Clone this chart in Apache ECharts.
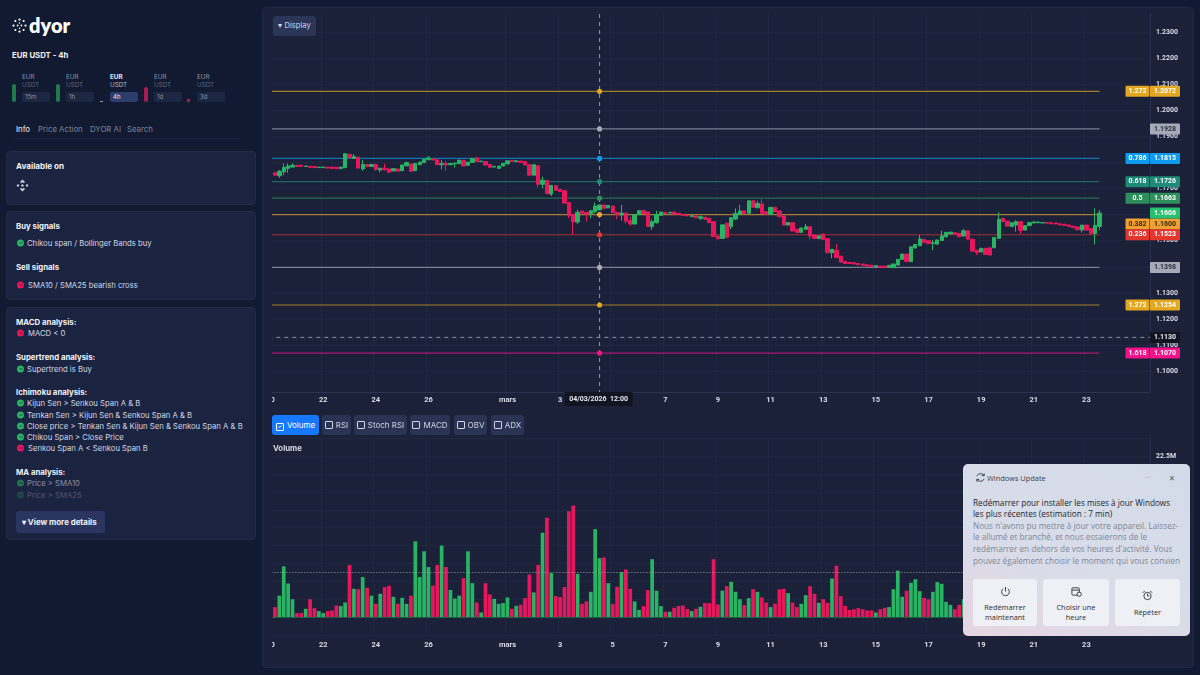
<!DOCTYPE html>
<html>
<head>
<meta charset="utf-8">
<title>EUR USDT - 4h</title>
<script src="https://cdn.jsdelivr.net/npm/echarts@6/dist/echarts.min.js"></script>
<style>
  html, body { margin: 0; padding: 0; width: 1200px; height: 675px; overflow: hidden; background: #111a30; font-family: Inter, "Noto Sans", sans-serif; color: #e6e9f2; }
  .abs { position: absolute; }
  .t { position: absolute; transform: translateY(-50%); white-space: nowrap; font-size: 7.7px; color: #d5dae6; }
  .b { font-weight: 700; color: #f1f3f8; font-size: 7.8px; }
  .card { position: absolute; left: 6px; width: 250px; background: #1a2340; border: 1px solid #222c4a; border-radius: 4px; box-sizing: border-box; }
  .dot { position: absolute; width: 7px; height: 7px; border-radius: 50%; transform: translateY(-50%); }
  .dot::after { content: ''; position: absolute; left: 1.5px; top: 3px; width: 4px; height: 1px; background: rgba(10,20,30,.45); }
  .g { background: #28b463; } .r { background: #e8175d; }
  .chip { position: absolute; top: 92px; height: 10px; width: 28px; background: #1c2743; border-radius: 2px; font-size: 6px; line-height: 10px; padding-left: 3px; box-sizing: border-box; color: #8d96ad; }
  #panel { position: absolute; left: 262px; top: 7px; width: 932px; height: 661px; background: #1a2139; border: 1px solid #212a45; border-radius: 4px; box-sizing: border-box; }
  #main { position: absolute; left: 0; top: 0; width: 1200px; height: 675px; clip-path: inset(0 0 0 272.7px); }
  .btn { position: absolute; top: 415px; height: 20px; background: #2a3353; border-radius: 3px; font-size: 8px; line-height: 20px; color: #cfd5e3; text-align: center; z-index: 5; }
  .btn i { display: inline-block; width: 6px; height: 6px; border: 1px solid #cfd5e3; border-radius: 1px; margin-right: 3px; vertical-align: -1px; font-style: normal; font-size: 6px; line-height: 6px; }
  #toast { position: absolute; left: 963px; top: 464px; width: 227px; height: 172px; border-radius: 5px; z-index: 9; background: linear-gradient(20deg, #e6d5e2 0%, #d8dde9 45%, #d3dbe8 100%); font-family: "Open Sans", "Noto Sans", sans-serif; color: #23262e; overflow: hidden; }
  #toast .t { color: #23262e; font-size: 8.2px; }
  #toast .m { color: #7f8798; }
  #toast .k { position: absolute; top: 115px; height: 47px; background: #eef0f5; border-radius: 3px; font-size: 7.4px; line-height: 10px; text-align: center; color: #2b2e36; }
  #toast .k svg { display: block; margin: 0 auto; }
</style>
</head>
<body>
<!-- sidebar -->
<svg class="abs" style="left:12px;top:18px" width="15" height="15" viewBox="0 0 20 20" fill="#fff">
  <circle cx="10" cy="2" r="1.5"/><circle cx="4.5" cy="4" r="1.4"/><circle cx="15.500" cy="4" r="1.4"/><circle cx="2" cy="10" r="1.5"/><circle cx="18" cy="10" r="1.5"/><circle cx="4.500" cy="16" r="1.4"/><circle cx="15.500" cy="16" r="1.4"/><circle cx="10" cy="18" r="1.5"/><circle cx="7.500" cy="10" r="1.2"/><circle cx="12.500" cy="10" r="1.2"/><circle cx="10" cy="6.500" r="1"/><circle cx="10" cy="13.500" r="1"/>
</svg>
<div class="t" style="left:29px;top:25px;font-size:20px;font-weight:800;color:#fff;font-family:Lato,Inter,sans-serif">dyor</div>
<div class="t b" style="left:12px;top:55px;font-size:7.8px">EUR USDT - 4h</div>

<div class="abs" style="left:12px;top:84px;width:4px;height:18px;background:#1f7a4c;border-radius:2px"></div>
<div class="abs" style="left:56px;top:84px;width:4px;height:18px;background:#1f7a4c;border-radius:2px"></div>
<div class="abs" style="left:100px;top:101px;width:3px;height:1px;background:#8d96ad"></div>
<div class="abs" style="left:144px;top:87px;width:4px;height:15px;background:#a81c55;border-radius:2px"></div>
<div class="abs" style="left:187px;top:99px;width:3px;height:3px;background:#a81c55"></div>
<div class="t" style="left:22px;top:77px;font-size:6.3px;color:#8d96ad">EUR</div><div class="t" style="left:22px;top:85px;font-size:6.3px;color:#5d6680">USDT</div><div class="chip" style="left:22px">15m</div>
<div class="t" style="left:66px;top:77px;font-size:6.3px;color:#8d96ad">EUR</div><div class="t" style="left:66px;top:85px;font-size:6.3px;color:#5d6680">USDT</div><div class="chip" style="left:66px">1h</div>
<div class="t" style="left:110px;top:77px;font-size:6.3px;font-weight:700;color:#e6e9f2">EUR</div><div class="t" style="left:110px;top:85px;font-size:6.3px;color:#b5bccc">USDT</div><div class="chip" style="left:110px;background:#2d3d6b;color:#e6e9f2">4h</div>
<div class="t" style="left:154px;top:77px;font-size:6.3px;color:#8d96ad">EUR</div><div class="t" style="left:154px;top:85px;font-size:6.3px;color:#5d6680">USDT</div><div class="chip" style="left:154px">1d</div>
<div class="t" style="left:197px;top:77px;font-size:6.3px;color:#8d96ad">EUR</div><div class="t" style="left:197px;top:85px;font-size:6.3px;color:#5d6680">USDT</div><div class="chip" style="left:197px">3d</div>

<div class="t" style="left:16px;top:129px;font-size:7.8px;color:#f1f3f8">Info</div>
<div class="t" style="left:38px;top:129px;font-size:7.8px;color:#7b849c">Price Action</div>
<div class="t" style="left:90px;top:129px;font-size:7.8px;color:#7b849c">DYOR AI</div>
<div class="t" style="left:127px;top:129px;font-size:7.8px;color:#7b849c">Search</div>
<div class="abs" style="left:14px;top:138px;width:226px;height:1px;background:#18213a"></div>

<div class="card" style="top:151px;height:54px"></div>
<div class="t b" style="left:16px;top:166px;font-size:8.1px">Available on</div>
<svg class="abs" style="left:16px;top:179px" width="13" height="13" viewBox="0 0 13 13" fill="#c9cfdc">
  <path d="M6.500 0.500 L9 3 L7.800 4.200 L6.500 2.900 L5.200 4.200 L4 3 Z M6.500 12.500 L4 10 L5.200 8.800 L6.500 10.100 L7.800 8.800 L9 10 Z M0.500 6.500 L2 5 L3.500 6.500 L2 8 Z M9.500 6.500 L11 5 L12.500 6.500 L11 8 Z M6.500 5 L8 6.500 L6.500 8 L5 6.500 Z"/>
</svg>

<div class="card" style="top:211px;height:89px"></div>
<div class="t b" style="left:16px;top:226px">Buy signals</div>
<div class="dot g" style="left:17px;top:243px"></div><div class="t" style="left:27px;top:243px">Chikou span / Bollinger Bands buy</div>
<div class="t b" style="left:16px;top:267px">Sell signals</div>
<div class="dot r" style="left:17px;top:285px"></div><div class="t" style="left:28px;top:285px">SMA10 / SMA25 bearish cross</div>

<div class="card" style="top:307px;height:233px"></div>
<div class="t b" style="left:16px;top:322px">MACD analysis:</div>
<div class="dot r" style="left:17px;top:333px"></div><div class="t" style="left:28px;top:333px">MACD &lt; 0</div>
<div class="t b" style="left:16px;top:357px">Supertrend analysis:</div>
<div class="dot g" style="left:17px;top:369px"></div><div class="t" style="left:27px;top:369px">Supertrend is Buy</div>
<div class="t b" style="left:16px;top:392px">Ichimoku analysis:</div>
<div class="dot g" style="left:17px;top:403px"></div><div class="t" style="left:27px;top:403px">Kijun Sen &gt; Senkou Span A &amp; B</div>
<div class="dot g" style="left:17px;top:415px"></div><div class="t" style="left:27px;top:415px">Tenkan Sen &gt; Kijun Sen &amp; Senkou Span A &amp; B</div>
<div class="dot g" style="left:17px;top:426px"></div><div class="t" style="left:27px;top:426px">Close price &gt; Tenkan Sen &amp; Kijun Sen &amp; Senkou Span A &amp; B</div>
<div class="dot g" style="left:17px;top:437px"></div><div class="t" style="left:27px;top:437px">Chikou Span &gt; Close Price</div>
<div class="dot r" style="left:17px;top:448px"></div><div class="t" style="left:28px;top:448px">Senkou Span A &lt; Senkou Span B</div>
<div class="t b" style="left:16px;top:472px">MA analysis:</div>
<div class="dot g" style="left:17px;top:483px;opacity:.55"></div><div class="t" style="left:27px;top:483px;opacity:.6">Price &gt; SMA10</div>
<div class="dot g" style="left:17px;top:495px;opacity:.25"></div><div class="t" style="left:27px;top:495px;opacity:.28">Price &gt; SMA25</div>
<div class="abs" style="left:16px;top:511px;width:89px;height:22px;background:#2a3560;border-radius:3px"></div>
<div class="t b" style="left:22px;top:522px;font-size:7.9px">&#9662; View more details</div>

<!-- chart -->
<div id="panel"></div>
<div id="main"></div>

<div class="abs" style="left:273px;top:16px;width:43px;height:20px;background:#2a3558;border-radius:3px;font-size:7.6px;line-height:20px;text-align:center;color:#cfd5e3;z-index:5">&#9662; Display</div>
<div class="btn" style="left:272px;width:47px;background:#1677ff;color:#fff"><i style="border-color:#fff">&#10003;</i>Volume</div>
<div class="btn" style="left:322px;width:29px"><i></i>RSI</div>
<div class="btn" style="left:354px;width:53px"><i></i>Stoch RSI</div>
<div class="btn" style="left:410px;width:40px"><i></i>MACD</div>
<div class="btn" style="left:454px;width:33px"><i></i>OBV</div>
<div class="btn" style="left:491px;width:33px"><i></i>ADX</div>
<div class="t b" style="left:273px;top:448px;font-size:7.8px;z-index:5;color:#d5dae6">Volume</div>

<!-- windows toast -->
<div id="toast">
  <svg class="abs" style="left:12px;top:8px" width="11" height="11" viewBox="0 0 12 12" fill="none" stroke="#33363e" stroke-width="1"><path d="M2 4.500 A4.500 4.500 0 0 1 10 4 M10 7.500 A4.500 4.500 0 0 1 2 8"/><path d="M10 1.500 V4 H7.500 M2 10.500 V8 H4.500"/></svg>
  <div class="t" style="left:24px;top:14px;font-size:7.4px;color:#3c404a">Windows Update</div>
  <div class="t" style="left:181px;top:12px;font-size:8px;color:#8b90a0">&middot;&middot;&middot;</div>
  <div class="t" style="left:206px;top:14px;font-size:10px;color:#555a66">&times;</div>
  <div class="t" style="left:10px;top:38px">Redémarrer pour installer les mises à jour Windows</div>
  <div class="t" style="left:10px;top:49px">les plus récentes (estimation : 7 min)</div>
  <div class="t m" style="left:10px;top:61px">Nous n'avons pu mettre à jour votre appareil. Laissez-</div>
  <div class="t m" style="left:10px;top:72px">le allumé et branché, et nous essaierons de le</div>
  <div class="t m" style="left:10px;top:84px">redémarrer en dehors de vos heures d'activité. Vous</div>
  <div class="abs" style="left:10px;top:90px;width:207px;height:12px;overflow:hidden"><div class="t m" style="left:0;top:6px">pouvez également choisir le moment qui vous convient</div></div>
  <div class="k" style="left:10px;width:64px"><svg style="margin-top:7px;margin-bottom:5px" width="11" height="11" viewBox="0 0 12 12" fill="none" stroke="#33363e"><path d="M3.500 3 A4.200 4.200 0 1 0 8.500 3 M6 1 V6"/></svg>Redémarrer<br>maintenant</div>
  <div class="k" style="left:80px;width:66px"><svg style="margin-top:7px;margin-bottom:5px" width="11" height="11" viewBox="0 0 12 12" fill="none" stroke="#33363e"><rect x="1" y="2" width="8" height="8" rx="1"/><path d="M1 4.500 H9"/><circle cx="9" cy="9" r="2.300" fill="#eef0f5"/></svg>Choisir une<br>heure</div>
  <div class="k" style="left:152px;width:65px"><svg style="margin-top:11px;margin-bottom:6px" width="11" height="11" viewBox="0 0 12 12" fill="none" stroke="#33363e"><circle cx="6" cy="6.500" r="4"/><path d="M6 4 V6.500 H8 M1 3 L3 1 M11 3 L9 1"/></svg>Répéter</div>
</div>

<script>
  // 4h bars, first slot is 20 Feb 00:00 (no candle, the first candle is 04:00)
  var barCount = 201;
  var firstBarTime = Date.UTC(2026, 1, 20, 0, 0);

  var opens = [
    1.1760,1.1749,1.1764,1.1777,1.1782,1.1789,1.1789,1.1784,1.1785,1.1784,
    1.1780,1.1780,1.1782,1.1782,1.1781,1.1776,1.1780,1.1831,1.1815,1.1820,
    1.1775,1.1792,1.1784,1.1792,1.1771,1.1778,1.1775,1.1767,1.1775,1.1768,
    1.1787,1.1794,1.1768,1.1791,1.1799,1.1810,1.1814,1.1810,1.1791,1.1796,
    1.1791,1.1794,1.1795,1.1808,1.1789,1.1800,1.1817,1.1803,1.1803,1.1792,
    1.1782,1.1777,1.1786,1.1794,1.1808,1.1803,1.1805,1.1803,1.1791,1.1751,
    1.1787,1.1716,1.1731,1.1679,1.1711,1.1697,1.1692,1.1646,1.1601,1.1572,
    1.1614,1.1609,1.1604,1.1611,1.1618,1.1637,1.1626,1.1633,1.1609,1.1599,
    1.1606,1.1577,1.1564,1.1600,1.1616,1.1610,1.1554,1.1569,1.1597,1.1609,
    1.1606,1.1610,1.1605,1.1601,1.1598,1.1592,1.1595,1.1586,1.1590,1.1586,
    1.1573,1.1518,1.1509,1.1567,1.1554,1.1583,1.1600,1.1614,1.1605,1.1653,
    1.1626,1.1641,1.1611,1.1601,1.1628,1.1614,1.1595,1.1560,1.1569,1.1544,
    1.1532,1.1544,1.1554,1.1522,1.1508,1.1526,1.1508,1.1454,1.1464,1.1441,
    1.1421,1.1417,1.1416,1.1413,1.1411,1.1408,1.1406,1.1401,1.1403,1.1403,
    1.1398,1.1397,1.1407,1.1429,1.1449,1.1420,1.1472,1.1481,1.1505,1.1500,
    1.1490,1.1487,1.1501,1.1515,1.1526,1.1531,1.1528,1.1518,1.1538,1.1506,
    1.1464,1.1457,1.1471,1.1473,1.1473,1.1509,1.1586,1.1575,1.1554,1.1560,
    1.1573,1.1541,1.1558,1.1568,1.1569,1.1568,1.1570,1.1569,1.1568,1.1565,
    1.1563,1.1560,1.1556,1.1553,1.1541,1.1560,1.1547,1.1528,1.1555
  ];
  var closes = [
    1.1751,1.1766,1.1780,1.1786,1.1789,1.1784,1.1784,1.1786,1.1781,1.1780,
    1.1782,1.1782,1.1778,1.1777,1.1776,1.1782,1.1833,1.1818,1.1822,1.1778,
    1.1792,1.1784,1.1792,1.1773,1.1777,1.1772,1.1762,1.1776,1.1766,1.1790,
    1.1799,1.1766,1.1796,1.1801,1.1812,1.1817,1.1809,1.1791,1.1796,1.1790,
    1.1796,1.1797,1.1809,1.1786,1.1801,1.1815,1.1803,1.1805,1.1790,1.1781,
    1.1785,1.1786,1.1796,1.1806,1.1803,1.1806,1.1800,1.1790,1.1751,1.1791,
    1.1716,1.1732,1.1680,1.1712,1.1693,1.1689,1.1644,1.1596,1.1572,1.1609,
    1.1606,1.1602,1.1615,1.1633,1.1637,1.1624,1.1635,1.1607,1.1600,1.1606,
    1.1575,1.1564,1.1600,1.1615,1.1604,1.1554,1.1573,1.1600,1.1610,1.1604,
    1.1609,1.1602,1.1601,1.1597,1.1595,1.1596,1.1588,1.1592,1.1582,1.1569,
    1.1516,1.1507,1.1561,1.1513,1.1588,1.1605,1.1614,1.1604,1.1653,1.1628,
    1.1643,1.1605,1.1601,1.1628,1.1610,1.1592,1.1560,1.1570,1.1537,1.1531,
    1.1549,1.1554,1.1518,1.1509,1.1519,1.1505,1.1454,1.1467,1.1435,1.1418,
    1.1413,1.1413,1.1411,1.1408,1.1406,1.1403,1.1402,1.1405,1.1399,1.1398,
    1.1406,1.1411,1.1429,1.1449,1.1420,1.1477,1.1486,1.1507,1.1494,1.1489,
    1.1493,1.1503,1.1519,1.1532,1.1533,1.1525,1.1515,1.1538,1.1506,1.1460,
    1.1454,1.1471,1.1447,1.1445,1.1513,1.1582,1.1573,1.1556,1.1569,1.1573,
    1.1539,1.1558,1.1570,1.1572,1.1572,1.1570,1.1567,1.1565,1.1564,1.1561,
    1.1559,1.1554,1.1550,1.1542,1.1560,1.1541,1.1528,1.1559,1.1606
  ];
  // only the candles with a visible wick
  var wickIndex = [1,2,3,4,16,18,20,23,24,25,30,35,38,39,41,46,55,60,61,63,67,68,69,71,72,73,78,79,80,81,86,87,97,103,104,105,106,110,111,121,122,127,128,147,150,152,157,160,165,169,170,184,186,187,188];
  var wickLows = [1.1741,1.1751,1.1760,1.1780,1.1778,1.1814,1.1768,1.1768,1.1762,1.1768,1.1785,1.1809,1.1773,1.1768,1.1780,1.1801,1.1800,1.1704,1.1700,1.1671,1.1586,1.1522,1.1564,1.1573,1.1586,1.1605,1.1582,1.1577,1.1566,1.1556,1.1541,1.1566,1.1579,1.1509,1.1544,1.1579,1.1600,1.1626,1.1605,1.1544,1.1505,1.1433,1.1435,1.1481,1.1464,1.1501,1.1518,1.1445,1.1509,1.1535,1.1526,1.1531,1.1525,1.1486,1.1541];
  var wickHighs = [1.1771,1.1796,1.1796,1.1796,1.1834,1.1832,1.1809,1.1796,1.1781,1.1796,1.1803,1.1824,1.1809,1.1806,1.1799,1.1822,1.1809,1.1787,1.1745,1.1712,1.1646,1.1601,1.1620,1.1609,1.1615,1.1646,1.1609,1.1637,1.1606,1.1592,1.1582,1.1615,1.1596,1.1569,1.1588,1.1624,1.1637,1.1653,1.1659,1.1564,1.1554,1.1467,1.1487,1.1522,1.1503,1.1539,1.1546,1.1464,1.1609,1.1579,1.1573,1.1560,1.1547,1.1624,1.1618];

  // volume in millions; from index 157 on the bars sit behind the toast
  var volumes = [
    1.4,3.0,7.1,4.7,2.5,0.56,0.56,1.16,2.5,1.26,
    0.84,0.56,0.84,0.93,1.63,1.54,2.05,7.3,3.96,3.9,
    5.6,4.1,3.0,1.86,3.26,4.2,4.4,2.84,1.86,2.7,
    1.86,3.0,10.6,5.6,9.2,7.0,4.4,7.3,10.0,7.0,
    3.8,2.6,3.0,5.45,9.2,4.75,2.05,0.65,4.75,3.17,
    2.56,1.86,1.96,2.75,1.16,1.58,1.72,2.65,5.96,3.45,
    7.3,11.8,13.9,6.15,2.93,2.8,4.2,14.8,15.6,6.05,
    1.86,2.2,3.54,12.3,8.24,8.34,4.75,1.86,4.24,6.3,
    6.66,3.96,2.2,1.0,1.54,3.77,8.1,3.7,1.54,0.75,
    0.75,1.3,1.54,1.63,1.12,0.84,1.16,1.44,1.96,1.96,
    8.1,1.77,3.7,4.33,4.94,3.54,2.5,1.68,2.65,3.9,
    3.54,2.75,2.05,1.4,1.86,3.9,3.96,3.35,2.05,1.4,
    1.86,3.07,4.33,3.26,2.0,2.5,2.0,5.4,7.2,2.93,
    1.58,1.0,1.1,1.26,1.1,0.93,0.93,0.65,1.1,1.3,
    1.4,3.9,6.5,2.84,3.7,4.8,5.3,3.63,2.7,2.5,
    3.54,4.9,4.66,2.14,1.72,1.1,1.72,2.5,3.6,5.0,
    2.2,2.0,1.8,2.6,4.4,6.5,3.0,2.6,2.0,2.2,
    2.8,1.8,1.5,0.9,0.7,0.7,0.7,0.7,0.8,0.8,
    0.9,1.0,1.2,1.6,2.2,2.4,3.0,7.0,5.0
  ];
  var volumeAverage = 6.33;

  var tickDays = ['02-20','02-22','02-24','02-26','03-01','03-03','03-05','03-07','03-09','03-11','03-13','03-15','03-17','03-19','03-21','03-23'];
  var tickLabels = ['20','22','24','26','mars','3','5','7','9','11','13','15','17','19','21','23'];
  var priceTicks = [1.10,1.11,1.12,1.13,1.14,1.15,1.16,1.17,1.18,1.19,1.20,1.21,1.22,1.23];

  // fibonacci levels, top to bottom
  var levelPrices = [1.2072,1.1928,1.1815,1.1726,1.1663,1.1600,1.1523,1.1398,1.1254,1.1070];
  var levelRatios = ['1.272','','0.786','0.618','0.5','0.382','0.236','','1.272','1.618'];
  var lastPrice = 1.1606;
  var crossPrice = 1.1130;
  var crossBar = 75;            // slot of 04/03/2026 12:00
  var crossLabel = '04/03/2026  12:00';

  // styles
  var levelColors = ['#e3a81f','#a4aab8','#0d9bef','#1f8a77','#2e8f5c','#f0a030','#e5352f','#a4aab8','#e3a81f','#f0138a'];
  var levelTextColors = ['#fff','#2b3040','#fff','#fff','#fff','#3a2a08','#fff','#2b3040','#fff','#fff'];
  var levelTagNudge = [0,0,0,0,0,9.5,0,0,0,0];
  var upColor = '#28b463';
  var downColor = '#e8175d';
  var gridColor = '#1f2842';
  var labelFont = 'Roboto, sans-serif';
  var tagFont = 'bold 7px Roboto, sans-serif';

  function pad(n) { return (n < 10 ? '0' : '') + n; }

  var categories = [];
  for (var s = 0; s < barCount; s++) {
    var d = new Date(firstBarTime + s * 4 * 3600 * 1000);
    categories.push(pad(d.getUTCMonth() + 1) + '-' + pad(d.getUTCDate()) + ' ' + pad(d.getUTCHours()) + ':00');
  }

  var candleData = [];
  var volumeData = [];
  for (var c = 0; c < barCount; c++) {
    var i = c - 1;
    if (i < 0 || i >= opens.length) {
      candleData.push('-');
      volumeData.push('-');
      continue;
    }
    var w = wickIndex.indexOf(i);
    var low = w >= 0 ? wickLows[w] : Math.min(opens[i], closes[i]);
    var high = w >= 0 ? wickHighs[w] : Math.max(opens[i], closes[i]);
    candleData.push([opens[i], closes[i], low, high]);
    volumeData.push({ value: volumes[i], itemStyle: { color: closes[i] >= opens[i] ? upColor : downColor } });
  }

  function isDayTick(index, value) {
    return value.slice(6) === '00:00' && tickDays.indexOf(value.slice(0, 5)) >= 0;
  }
  function dayLabel(value) {
    return tickLabels[tickDays.indexOf(value.slice(0, 5))];
  }

  function xAxisFor(gridIndex, margin) {
    return {
      type: 'category',
      gridIndex: gridIndex,
      data: categories,
      axisLine: { lineStyle: { color: '#2a3350' } },
      axisTick: { show: false },
      axisLabel: {
        interval: isDayTick, formatter: dayLabel, margin: margin,
        color: '#d8dde8', fontSize: 7.5, fontWeight: 'bold', fontFamily: labelFont
      },
      splitLine: { show: true, interval: isDayTick, lineStyle: { color: gridColor } }
    };
  }

  // level lines, under the candles
  function renderLevelLine(params, api) {
    var y = api.coord([0, api.value(1)])[1];
    var x0 = api.coord([0, api.value(1)])[0];
    var x1 = api.coord([opens.length, api.value(1)])[0];
    return {
      type: 'line',
      shape: { x1: x0, y1: y, x2: x1, y2: y },
      style: { stroke: levelColors[params.dataIndex], lineWidth: 1.2, opacity: 0.68 }
    };
  }

  function tagRect(x, y, w, h, fill, text, textFill) {
    return [
      { type: 'rect', shape: { x: x, y: y - h / 2, width: w, height: h, r: 1 }, style: { fill: fill } },
      { type: 'text', style: { x: x + w / 2, y: y, text: text, fill: textFill, font: tagFont, align: 'center', verticalAlign: 'middle' } }
    ];
  }

  // crossing dot and the two part price tag of each level
  function renderLevelTag(params, api) {
    var n = params.dataIndex;
    var pt = api.coord([crossBar, api.value(1)]);
    var right = params.coordSys.x + params.coordSys.width;
    var y = pt[1] + levelTagNudge[n];
    var kids = [{ type: 'circle', shape: { cx: pt[0], cy: pt[1], r: 2.6 }, style: { fill: levelColors[n] } }];
    kids = kids.concat(tagRect(right, y, 30, 11, levelColors[n], api.value(1).toFixed(4), levelTextColors[n]));
    if (levelRatios[n]) {
      kids = kids.concat(tagRect(right - 24.500, y, 24, 11, levelColors[n], levelRatios[n], levelTextColors[n]));
    }
    return { type: 'group', children: kids };
  }

  // crosshair: dashed lines, time tag and price tag
  function renderCross(params, api) {
    var pt = api.coord([crossBar, crossPrice]);
    var g = params.coordSys;
    var dash = { stroke: '#8b93a7', lineWidth: 1, lineDash: [4, 4] };
    var kids = [
      { type: 'line', shape: { x1: pt[0], y1: g.y, x2: pt[0], y2: g.y + g.height }, style: dash },
      { type: 'line', shape: { x1: g.x, y1: pt[1], x2: g.x + g.width, y2: pt[1] }, style: dash },
      { type: 'rect', shape: { x: pt[0] - 35, y: g.y + g.height, width: 68, height: 14 }, style: { fill: '#12151f' } },
      { type: 'text', style: { x: pt[0] - 1, y: g.y + g.height + 7, text: crossLabel, fill: '#e6e9f2', font: tagFont, align: 'center', verticalAlign: 'middle' } }
    ];
    kids = kids.concat(tagRect(g.x + g.width, pt[1], 30, 11, '#12151f', crossPrice.toFixed(4), '#e6e9f2'));
    return { type: 'group', children: kids };
  }

  function renderLastTag(params, api) {
    var y = api.coord([0, api.value(1)])[1];
    var right = params.coordSys.x + params.coordSys.width;
    return { type: 'group', children: tagRect(right, y, 30, 11, '#27c06f', api.value(1).toFixed(4), '#fff') };
  }

  var levelSeriesData = levelPrices.map(function (p) { return [crossBar, p]; });

  var myChart = echarts.init(document.getElementById('main'));
  var option = {
    animation: false,
    backgroundColor: 'transparent',
    grid: [
      { left: 268.4, right: 50, top: 14, height: 378 },
      { left: 268.4, right: 50, top: 438.3, height: 196.7 }
    ],
    xAxis: [xAxisFor(0, 4), xAxisFor(1, 6)],
    yAxis: [
      {
        type: 'value', gridIndex: 0, position: 'right', scale: true,
        min: 1.0921, max: 1.2368,
        axisLine: { show: true, lineStyle: { color: '#2a3350' } },
        axisTick: { show: false, customValues: priceTicks },
        axisLabel: {
          customValues: priceTicks, margin: 6,
          color: '#d8dde8', fontSize: 7, fontWeight: 'bold', fontFamily: labelFont,
          formatter: function (v) { return v.toFixed(4); }
        },
        splitLine: { show: true, lineStyle: { color: gridColor } }
      },
      {
        type: 'value', gridIndex: 1, position: 'right',
        min: -2.5, max: 25, interval: 2.5,
        axisLine: { show: true, lineStyle: { color: '#2a3350' } },
        axisTick: { show: false },
        axisLabel: {
          margin: 6, showMaxLabel: false,
          color: '#d8dde8', fontSize: 7, fontWeight: 'bold', fontFamily: labelFont,
          formatter: function (v) { return v < 0 ? '' : v + 'M'; }
        },
        splitLine: { show: true, lineStyle: { color: gridColor } }
      }
    ],
    series: [
      {
        name: 'levels', type: 'custom', xAxisIndex: 0, yAxisIndex: 0, z: 1, silent: true,
        renderItem: renderLevelLine, data: levelSeriesData, encode: { x: 0, y: 1 }, clip: false
      },
      {
        name: 'EUR USDT', type: 'candlestick', xAxisIndex: 0, yAxisIndex: 0, z: 2,
        barWidth: 3.8,
        itemStyle: { color: upColor, color0: downColor, borderColor: upColor, borderColor0: downColor, borderWidth: 1 },
        data: candleData
      },
      {
        name: 'cross', type: 'custom', xAxisIndex: 0, yAxisIndex: 0, z: 3, silent: true,
        renderItem: renderCross, data: [[crossBar, crossPrice]], encode: { x: 0, y: 1 }, clip: false
      },
      {
        name: 'tags', type: 'custom', xAxisIndex: 0, yAxisIndex: 0, z: 4, silent: true,
        renderItem: renderLevelTag, data: levelSeriesData, encode: { x: 0, y: 1 }, clip: false
      },
      {
        name: 'last', type: 'custom', xAxisIndex: 0, yAxisIndex: 0, z: 4, silent: true,
        renderItem: renderLastTag, data: [[crossBar, lastPrice]], encode: { x: 0, y: 1 }, clip: false
      },
      {
        name: 'Volume', type: 'bar', xAxisIndex: 1, yAxisIndex: 1, barWidth: 3.7,
        data: volumeData,
        markLine: {
          silent: true, symbol: 'none', label: { show: false },
          data: [
            { yAxis: volumeAverage, lineStyle: { color: '#8fa3a8', type: [1, 2], width: 1 } },
            { yAxis: 0, lineStyle: { color: '#1c5e42', type: 'solid', width: 1 } }
          ]
        }
      }
    ]
  };
  myChart.setOption(option);
</script>
</body>
</html>
